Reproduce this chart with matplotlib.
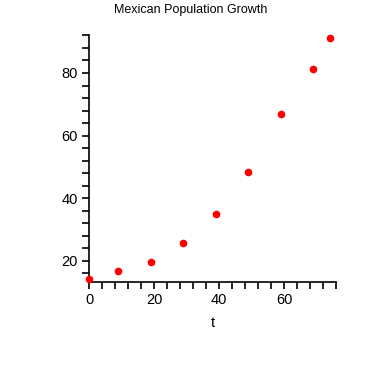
import numpy as np
import matplotlib
matplotlib.use("Agg")
import matplotlib.pyplot as plt
from matplotlib.ticker import MultipleLocator

# years since 1921 and population (millions)
t_vals = [0, 9, 19, 29, 39, 49, 59, 69, 74]
pop_vals = [14.3, 16.6, 19.7, 25.8, 34.9, 48.2, 66.8, 81.2, 91.1]

x_ticks = [0, 20, 40, 60]
y_ticks = [20, 40, 60, 80]

plt.rcParams["font.family"] = ["Liberation Sans", "DejaVu Sans"]

fig = plt.figure(figsize=(3.82, 3.82), dpi=100)
ax = fig.add_axes([0.233, 0.261, 0.647, 0.647])

ax.plot(t_vals, pop_vals, linestyle="none", marker="o", markersize=5.5,
        color="red", markeredgewidth=0, clip_on=False, zorder=3)

ax.set_xlim(0, 76)
ax.set_ylim(13.1, 92.1)
ax.set_xticks(x_ticks)
ax.set_yticks(y_ticks)
ax.xaxis.set_minor_locator(MultipleLocator(4))
ax.yaxis.set_minor_locator(MultipleLocator(4))

for side in ("top", "right"):
    ax.spines[side].set_visible(False)
for side in ("left", "bottom"):
    ax.spines[side].set_linewidth(1.2)

ax.tick_params(which="both", direction="out", length=5, width=1.2,
               labelsize=10.5, pad=3)
ax.set_xlabel("t", fontsize=10.5, labelpad=6)

fig.text(0.5, 0.975, "Mexican Population Growth", ha="center", va="center",
         fontsize=9)

fig.savefig("out.png", dpi=100)
